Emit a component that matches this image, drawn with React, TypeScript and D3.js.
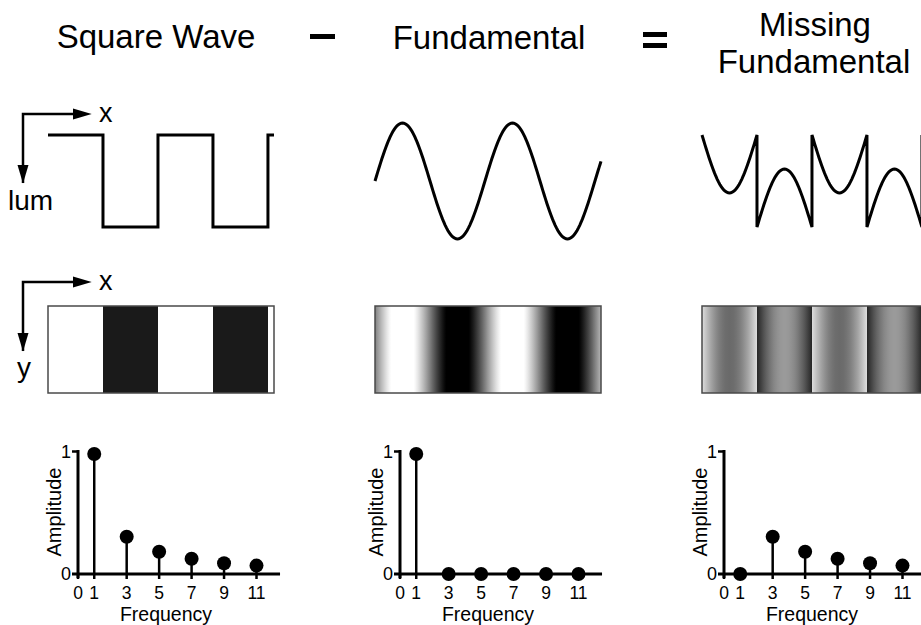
import * as d3 from 'd3';

// spectra
const harmonics = [1, 3, 5, 7, 9, 11];
const squareAmps = [1, 0.31, 0.185, 0.127, 0.09, 0.07];
const fundamentalAmps = [1, 0, 0, 0, 0, 0];
const missingAmps = [0, 0.31, 0.185, 0.127, 0.09, 0.07];
const freqTicks = [0, 1, 3, 5, 7, 9, 11];
const ampTicks = [0, 1];

// waveform settings (square level = 1)
const cyclesShown = 2.055;
const fundamentalPeak = 1.26;

const W = 921;
const H = 625;
const FONT = 'Liberation Sans, Arial, Helvetica, sans-serif';

const waveX0 = [48, 375, 702];
const stemX0 = [78, 400, 724];
const panelW = 226;

type Pt = { t: number; v: number };

const squareAt = (k: number) => (k % 2 === 0 ? 1 : -1);
const fundAt = (t: number) => fundamentalPeak * Math.sin(2 * Math.PI * t);

// sample one half cycle at a time so the jumps stay vertical
const halfCycleSamples = (f: (t: number, k: number) => number): Pt[] => {
  const pts: Pt[] = [];
  const nHalf = Math.ceil(cyclesShown * 2);
  for (let k = 0; k < nHalf; k++) {
    const a = k / 2;
    const b = Math.min((k + 1) / 2, cyclesShown);
    d3.range(0, 41).forEach((i) => {
      const t = a + ((b - a) * i) / 40;
      pts.push({ t, v: f(t, k) });
    });
  }
  return pts;
};

const squarePts = halfCycleSamples((_t, k) => squareAt(k));
const fundPts = halfCycleSamples((t) => fundAt(t));
const missingPts = halfCycleSamples((t, k) => squareAt(k) - fundAt(t));

const waves = [
  { pts: squarePts, lum: [0.1, 1] },
  { pts: fundPts, lum: [0, 1] },
  { pts: missingPts, lum: [0.15, 0.87] },
];

const yWave = d3.scaleLinear().domain([-1, 1]).range([227, 135]);

const WavePanel = ({ i }: { i: number }) => {
  const { pts, lum } = waves[i];
  const x = d3.scaleLinear().domain([0, cyclesShown]).range([waveX0[i], waveX0[i] + panelW]);
  const line = d3
    .line<Pt>()
    .x((d) => x(d.t))
    .y((d) => yWave(d.v));
  const gray = d3.scaleLinear().domain([-1, 1]).range(lum).clamp(true);
  const gid = `grat${i}`;
  return (
    <g>
      <defs>
        <linearGradient id={gid} x1="0" x2="1" y1="0" y2="0">
          {pts.map((p, j) => {
            const c = Math.round(gray(p.v) * 255);
            return <stop key={j} offset={p.t / cyclesShown} stopColor={`rgb(${c},${c},${c})`} />;
          })}
        </linearGradient>
      </defs>
      <path d={line(pts) || ''} fill="none" stroke="#000" strokeWidth={3} />
      <rect
        x={waveX0[i]}
        y={306}
        width={panelW}
        height={87}
        fill={`url(#${gid})`}
        stroke="#4a4a4a"
        strokeWidth={1.5}
      />
    </g>
  );
};

const fx = d3.scaleLinear().domain([0, 11]).range([0, 178.5]);
const ay = d3.scaleLinear().domain([0, 1]).range([574, 454]);

const StemChart = ({ i, amps }: { i: number; amps: number[] }) => (
  <g transform={`translate(${stemX0[i]},0)`} fontFamily={FONT}>
    <line x1={-6} x2={fx(12.45)} y1={ay(0)} y2={ay(0)} stroke="#000" strokeWidth={3} />
    <line x1={0} x2={0} y1={450} y2={ay(0) + 4} stroke="#000" strokeWidth={3} />
    <line x1={-6} x2={0} y1={451.5} y2={451.5} stroke="#000" strokeWidth={2.5} />
    {freqTicks.map((f) => (
      <g key={f}>
        <line x1={fx(f)} x2={fx(f)} y1={ay(0)} y2={ay(0) + 5} stroke="#000" strokeWidth={2.5} />
        <text x={fx(f)} y={598.5} textAnchor="middle" fontSize={17.5}>
          {f}
        </text>
      </g>
    ))}
    {ampTicks.map((a) => (
      <text key={a} x={-7} y={a === 1 ? 451.5 : ay(a)} dy="0.36em" textAnchor="end" fontSize={18}>
        {a}
      </text>
    ))}
    {harmonics.map((h, j) => (
      <g key={h}>
        <line x1={fx(h)} x2={fx(h)} y1={ay(0)} y2={ay(amps[j])} stroke="#000" strokeWidth={2.5} />
        <circle cx={fx(h)} cy={ay(amps[j])} r={7} fill="#000" />
      </g>
    ))}
    <text x={88} y={620.5} textAnchor="middle" fontSize={19.5}>
      Frequency
    </text>
    <text transform="translate(-17,512) rotate(-90)" textAnchor="middle" fontSize={20}>
      Amplitude
    </text>
  </g>
);

const Arrows = ({ dy, label }: { dy: number; label: string }) => (
  <g transform={`translate(0,${dy})`} fontFamily={FONT}>
    <path d="M23,183 L23,114 L78,114" fill="none" stroke="#000" strokeWidth={2.5} />
    <polygon points="91.7,114 73,108.5 73,119.5" fill="#000" />
    <polygon points="23,183.5 17.5,165 28.5,165" fill="#000" />
    <text x={99} y={122} fontSize={27}>
      x
    </text>
    {label === 'lum' ? (
      <text x={8} y={210} fontSize={28}>
        lum
      </text>
    ) : (
      <text x={17} y={209} fontSize={28}>
        y
      </text>
    )}
  </g>
);

export default function App() {
  return (
    <svg
      width={W}
      height={H}
      viewBox={`0 0 ${W} ${H}`}
      style={{ position: 'absolute', left: 0, top: 0, background: '#fff' }}
    >
      <rect width={W} height={H} fill="#fff" />
      <g fontFamily={FONT} fill="#000">
        <text x={156} y={48} textAnchor="middle" fontSize={33}>
          Square Wave
        </text>
        <rect x={310} y={34} width={25} height={5} />
        <text x={489} y={49} textAnchor="middle" fontSize={33}>
          Fundamental
        </text>
        <rect x={643} y={32} width={24} height={5} />
        <rect x={643} y={43} width={24} height={5} />
        <text x={815} y={36} textAnchor="middle" fontSize={33}>
          Missing
        </text>
        <text x={814} y={73} textAnchor="middle" fontSize={33}>
          Fundamental
        </text>
      </g>
      <Arrows dy={0} label="lum" />
      <Arrows dy={168} label="y" />
      {[0, 1, 2].map((i) => (
        <WavePanel key={i} i={i} />
      ))}
      <StemChart i={0} amps={squareAmps} />
      <StemChart i={1} amps={fundamentalAmps} />
      <StemChart i={2} amps={missingAmps} />
    </svg>
  );
}
